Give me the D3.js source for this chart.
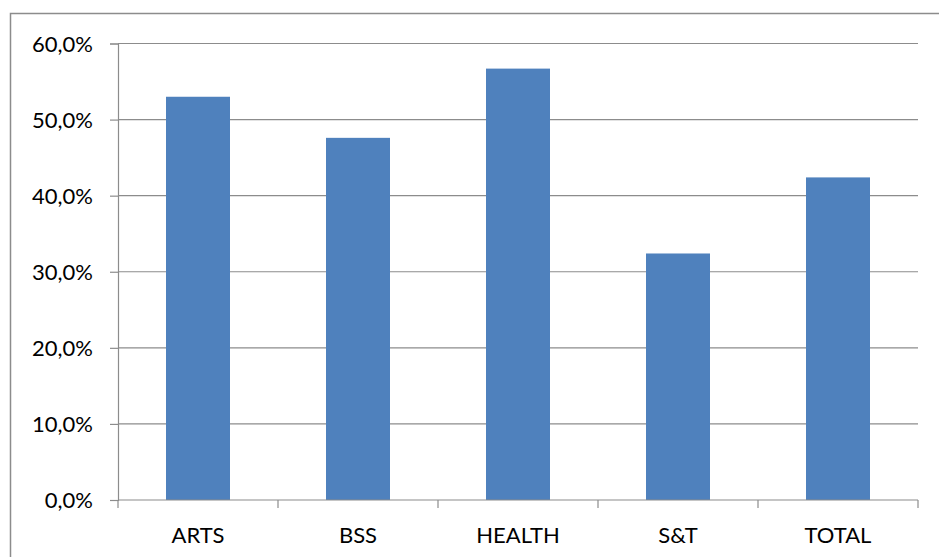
<!DOCTYPE html>
<html>
<head>
<meta charset="utf-8">
<script src="https://cdn.jsdelivr.net/npm/d3@7"></script>
<style>
  body { margin: 0; background: #fff; }
  svg text { font-family: Lato, 'Open Sans', sans-serif; fill: #000; }
</style>
</head>
<body>
<div id="chart"></div>
<script>
var categories = ['ARTS', 'BSS', 'HEALTH', 'S&T', 'TOTAL'];
var values = [53.0, 47.6, 56.7, 32.4, 42.4];
var yTicks = [0, 10, 20, 30, 40, 50, 60];

var W = 939, H = 557;
var margin = { top: 43.5, right: 21, bottom: 57, left: 118 };
var width = W - margin.left - margin.right;
var height = H - margin.top - margin.bottom;

var svg = d3.select('#chart')
  .append('svg')
    .attr('width', W)
    .attr('height', H);

// outer chart frame
svg.append('rect')
  .attr('x', 10.5).attr('y', 13.5)
  .attr('width', W).attr('height', H)
  .attr('fill', 'none')
  .attr('stroke', '#8c8c8c')
  .attr('stroke-width', 1.5);

var g = svg.append('g')
  .attr('transform', `translate(${margin.left}, ${margin.top})`);

var x = d3.scaleBand()
  .domain(categories)
  .range([0, width])
  .paddingInner(0.6)
  .paddingOuter(0.3);

var y = d3.scaleLinear()
  .domain([0, 60])
  .range([height, 0]);

// gridlines
g.selectAll('.grid')
  .data(yTicks.filter(d => d > 0))
  .enter()
    .append('line')
    .attr('class', 'grid')
    .attr('x1', 0).attr('x2', width)
    .attr('y1', d => y(d)).attr('y2', d => y(d))
    .attr('stroke', '#8c8c8c')
    .attr('stroke-width', 1.2);

// bars
g.selectAll('.bar')
  .data(values)
  .enter()
    .append('rect')
    .attr('class', 'bar')
    .attr('x', (d, i) => x(categories[i]))
    .attr('y', d => y(d))
    .attr('width', x.bandwidth())
    .attr('height', d => height - y(d))
    .attr('fill', '#4f81bd');

// y axis
var yAxis = g.append('g')
  .call(d3.axisLeft(y).tickValues(yTicks).tickSize(8).tickPadding(17)
    .tickFormat(d => d3.format('.1f')(d).replace('.', ',') + '%'));
yAxis.select('.domain').attr('stroke', '#8c8c8c').attr('stroke-width', 1.2);
yAxis.selectAll('.tick line').attr('stroke', '#8c8c8c').attr('stroke-width', 1.2);
yAxis.selectAll('text').attr('font-size', 22).attr('dy', '0.35em');

// x axis, ticks at category boundaries
var xAxis = g.append('g')
  .attr('transform', `translate(0, ${height})`);
xAxis.append('line')
  .attr('x1', 0).attr('x2', width)
  .attr('stroke', '#8c8c8c').attr('stroke-width', 1.2);
xAxis.selectAll('.xtick')
  .data(d3.range(categories.length + 1))
  .enter()
    .append('line')
    .attr('class', 'xtick')
    .attr('x1', i => i * x.step())
    .attr('x2', i => i * x.step())
    .attr('y1', 0).attr('y2', 8)
    .attr('stroke', '#8c8c8c').attr('stroke-width', 1.2);
xAxis.selectAll('.xlabel')
  .data(categories)
  .enter()
    .append('text')
    .attr('class', 'xlabel')
    .attr('x', d => x(d) + x.bandwidth() / 2)
    .attr('y', 43)
    .attr('text-anchor', 'middle')
    .attr('font-size', 22)
    .text(d => d);
</script>
</body>
</html>
